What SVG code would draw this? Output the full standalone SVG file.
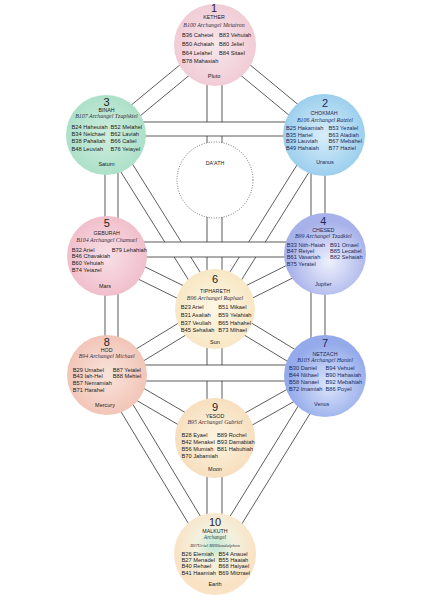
<svg xmlns="http://www.w3.org/2000/svg" width="421" height="600" viewBox="0 0 421 600">
<defs>
<style>
.ch{fill:#fff;stroke:#333;stroke-width:0.8}
.num{font-family:"Liberation Sans",Arial,sans-serif;font-size:11px;fill:#222;text-anchor:middle}
.nm{font-family:"Liberation Sans",Arial,sans-serif;font-size:5.3px;fill:#222;text-anchor:middle}
.arch{font-family:"Liberation Serif","Times New Roman",serif;font-style:italic;font-size:5.9px;fill:#3a3040;text-anchor:middle}
.ang{font-family:"Liberation Sans",Arial,sans-serif;font-size:5.7px;fill:#222}
.pl{font-family:"Liberation Sans",Arial,sans-serif;font-size:5.5px;fill:#222;text-anchor:middle}
.blue .num,.blue .nm,.blue .ang,.blue .pl{fill:#1c2b58}
.blue .arch{fill:#1c2b58}
</style>
<radialGradient id="gK"><stop offset="0" stop-color="#f8e6eb"/><stop offset="1" stop-color="#f1ccd6"/></radialGradient>
<radialGradient id="gB"><stop offset="0" stop-color="#cdeedf"/><stop offset="1" stop-color="#ade0c9"/></radialGradient>
<radialGradient id="gC"><stop offset="0" stop-color="#d9eefa"/><stop offset="1" stop-color="#9ccfee"/></radialGradient>
<radialGradient id="gG"><stop offset="0" stop-color="#f9e0e6"/><stop offset="1" stop-color="#f0bfcc"/></radialGradient>
<radialGradient id="gH" cx="0.55" cy="0.6"><stop offset="0" stop-color="#eef0fc"/><stop offset="1" stop-color="#a8b2ea"/></radialGradient>
<radialGradient id="gT"><stop offset="0" stop-color="#fdf7e6"/><stop offset="1" stop-color="#f8e7c4"/></radialGradient>
<radialGradient id="gD"><stop offset="0" stop-color="#f9e3db"/><stop offset="1" stop-color="#f2c5b8"/></radialGradient>
<radialGradient id="gN" cx="0.55" cy="0.6"><stop offset="0" stop-color="#dde6fb"/><stop offset="1" stop-color="#94aaea"/></radialGradient>
<radialGradient id="gY"><stop offset="0" stop-color="#fdf4e2"/><stop offset="1" stop-color="#f7dfbe"/></radialGradient>
<radialGradient id="gM" cx="0.5" cy="0.4"><stop offset="0" stop-color="#bfe8d4"/><stop offset="0.45" stop-color="#f3f1df"/><stop offset="1" stop-color="#fae2c4"/></radialGradient>
</defs>
<rect width="421" height="600" fill="#fff"/>
<g id="connectors">
<polygon class="ch" points="210.55,50.4 319.55,140.4 328.45,129.6 219.45,39.6"/>
<polygon class="ch" points="210.55,39.6 101.55,129.6 110.45,140.4 219.45,50.4"/>
<polygon class="ch" points="100.07,138.72 209.07,312.72 220.93,305.28 111.93,131.28"/>
<polygon class="ch" points="318.07,131.28 209.07,305.28 220.93,312.72 329.93,138.72"/>
<polygon class="ch" points="103.92,262.28 211.92,315.28 218.08,302.72 110.08,249.72"/>
<polygon class="ch" points="321.87,247.74 211.87,302.74 218.13,315.26 328.13,260.26"/>
<polygon class="ch" points="110.65,380.97 218.65,314.97 211.35,303.03 103.35,369.03"/>
<polygon class="ch" points="328.64,370.02 218.64,303.02 211.36,314.98 321.36,381.98"/>
<polygon class="ch" points="103.47,381.05 211.47,444.05 218.53,431.95 110.53,368.95"/>
<polygon class="ch" points="321.56,369.9 211.56,431.9 218.44,444.1 328.44,382.1"/>
<polygon class="ch" points="101.01,378.62 209.01,557.62 220.99,550.38 112.99,371.38"/>
<polygon class="ch" points="319.04,372.32 209.04,550.32 220.96,557.68 330.96,379.68"/>
<rect class="ch" x="207" y="45" width="15" height="509"/>
<rect class="ch" x="105" y="135" width="13" height="240"/>
<rect class="ch" x="311" y="135" width="14" height="241"/>
<rect class="ch" x="106" y="122" width="218" height="14"/>
<rect class="ch" x="107" y="242" width="218" height="15"/>
<rect class="ch" x="107" y="365" width="218" height="16"/>
</g>
<g id="daath">
<circle cx="215" cy="180" r="38" fill="#fff" stroke="#555" stroke-width="0.9" stroke-dasharray="0.9 1.6"/>
<text class="nm" x="215" y="165">DA'ATH</text>
</g>
<g id="kether">
<circle cx="215" cy="45" r="41" fill="url(#gK)"/>
<text class="num" x="214" y="11.5">1</text>
<text class="nm" x="214" y="18.8">KETHER</text>
<text class="arch" x="214" y="27">B100 Archangel Metatron</text>
<text class="ang" x="182" y="36.5">B36 Cahetel</text>
<text class="ang" x="182" y="45.5">B50 Achaiah</text>
<text class="ang" x="182" y="54.5">B64 Lelahel</text>
<text class="ang" x="182" y="63.2">B78 Mahasiah</text>
<text class="ang" x="219" y="36.5">B83 Vehuiah</text>
<text class="ang" x="219" y="45.5">B80 Jeliel</text>
<text class="ang" x="219" y="54.5">B84 Sitael</text>
<text class="pl" x="214" y="78">Pluto</text>
</g>
<g id="binah">
<circle cx="106" cy="135" r="40" fill="url(#gB)"/>
<text class="num" x="106.5" y="105.5">3</text>
<text class="nm" x="106.5" y="111.6">BINAH</text>
<text class="arch" x="106.5" y="118.3">B107 Archangel Tzaphkiel</text>
<text class="ang" x="71.5" y="128.9">B24 Haheuiah</text>
<text class="ang" x="71.5" y="136.2">B34 Nelchael</text>
<text class="ang" x="71.5" y="143.2">B38 Pahaliah</text>
<text class="ang" x="71.5" y="150.5">B48 Leuviah</text>
<text class="ang" x="110.5" y="128.9">B52 Melahel</text>
<text class="ang" x="110.5" y="136.2">B62 Laviah</text>
<text class="ang" x="110.5" y="143.2">B66 Caliel</text>
<text class="ang" x="110.5" y="150.5">B76 Yeiayel</text>
<text class="pl" x="106.5" y="165.5">Saturn</text>
</g>
<g id="chokmah" class="blue">
<circle cx="324" cy="135" r="41" fill="url(#gC)"/>
<text class="num" x="325" y="106.5">2</text>
<text class="nm" x="324" y="115.3">CHOKMAH</text>
<text class="arch" x="325" y="121.6">B106 Archangel Ratziel</text>
<text class="ang" x="286" y="129.9">B25 Hakamiah</text>
<text class="ang" x="286" y="136.5">B35 Hariel</text>
<text class="ang" x="286" y="143.2">B39 Lauviah</text>
<text class="ang" x="286" y="149.5">B49 Hahaiah</text>
<text class="ang" x="328.5" y="129.9">B53 Yezalel</text>
<text class="ang" x="328.5" y="136.5">B63 Aladiah</text>
<text class="ang" x="328.5" y="143.2">B67 Mebahel</text>
<text class="ang" x="328.5" y="149.5">B77 Haziel</text>
<text class="pl" x="325" y="164">Uranus</text>
</g>
<g id="geburah">
<circle cx="107" cy="256" r="40" fill="url(#gG)"/>
<text class="num" x="106.7" y="227">5</text>
<text class="nm" x="106.7" y="235.3">GEBURAH</text>
<text class="arch" x="106.7" y="241.6">B104 Archangel Chamuel</text>
<text class="ang" x="71.7" y="251.5">B32 Ariel</text>
<text class="ang" x="71.7" y="258.2">B46 Chavakiah</text>
<text class="ang" x="71.7" y="264.9">B60 Yehuiah</text>
<text class="ang" x="71.7" y="272.2">B74 Yeiazel</text>
<text class="ang" x="111.7" y="251.5">B79 Lehahiah</text>
<text class="pl" x="105" y="288">Mars</text>
</g>
<g id="chesed" class="blue">
<circle cx="325" cy="254" r="41" fill="url(#gH)"/>
<text class="num" x="323.3" y="224.5">4</text>
<text class="nm" x="323.3" y="232">CHESED</text>
<text class="arch" x="323.3" y="238">B99 Archangel Tzadkiel</text>
<text class="ang" x="286.7" y="246.5">B33 Nith-Haiah</text>
<text class="ang" x="286.7" y="252.5">B47 Reiyel</text>
<text class="ang" x="286.7" y="258.9">B61 Vasariah</text>
<text class="ang" x="286.7" y="265.5">B75 Yeratel</text>
<text class="ang" x="330" y="246.5">B91 Omael</text>
<text class="ang" x="330" y="252.5">B85 Lecabel</text>
<text class="ang" x="330" y="258.9">B82 Sehaiah</text>
<text class="pl" x="323.3" y="285.5">Jupiter</text>
</g>
<g id="tiphareth">
<circle cx="215" cy="309" r="40" fill="url(#gT)"/>
<text class="num" x="215" y="283">6</text>
<text class="nm" x="215" y="293.4">TIPHARETH</text>
<text class="arch" x="215" y="299.6">B96 Archangel Raphael</text>
<text class="ang" x="180.7" y="308.9">B23 Ariel</text>
<text class="ang" x="180.7" y="316.5">B31 Asaliah</text>
<text class="ang" x="180.7" y="324.5">B37 Veuliah</text>
<text class="ang" x="180.7" y="332.2">B45 Sehaliah</text>
<text class="ang" x="218.3" y="308.9">B51 Mikael</text>
<text class="ang" x="218.3" y="316.5">B59 Yelahiah</text>
<text class="ang" x="218.3" y="324.5">B65 Hahahel</text>
<text class="ang" x="218.3" y="332.2">B73 Mihael</text>
<text class="pl" x="215" y="343.5">Sun</text>
</g>
<g id="hod">
<circle cx="107" cy="375" r="40" fill="url(#gD)"/>
<text class="num" x="106.7" y="346">8</text>
<text class="nm" x="106.7" y="352.3">HOD</text>
<text class="arch" x="106.7" y="358">B94 Archangel Michael</text>
<text class="ang" x="72.7" y="371.5">B29 Umabel</text>
<text class="ang" x="72.7" y="378.2">B43 Iah-Hel</text>
<text class="ang" x="72.7" y="384.9">B57 Nemamiah</text>
<text class="ang" x="72.7" y="392.2">B71 Harahel</text>
<text class="ang" x="112.7" y="371.5">B87 Yeialel</text>
<text class="ang" x="112.7" y="378.2">B88 Mehiel</text>
<text class="pl" x="105" y="407.2">Mercury</text>
</g>
<g id="netzach" class="blue">
<circle cx="325" cy="376" r="41" fill="url(#gN)"/>
<text class="num" x="325" y="346.5">7</text>
<text class="nm" x="325" y="355.8">NETZACH</text>
<text class="arch" x="325" y="361.8">B103 Archangel Haniel</text>
<text class="ang" x="289" y="369.8">B30 Daniel</text>
<text class="ang" x="289" y="376.7">B44 Nithael</text>
<text class="ang" x="289" y="383.9">B58 Nanael</text>
<text class="ang" x="289" y="390.7">B72 Imamiah</text>
<text class="ang" x="325.5" y="369.8">B94 Vehuel</text>
<text class="ang" x="325.5" y="376.7">B90 Hahasiah</text>
<text class="ang" x="325.5" y="383.9">B92 Mebahiah</text>
<text class="ang" x="325.5" y="390.7">B86 Poyel</text>
<text class="pl" x="321.7" y="406.2">Venus</text>
</g>
<g id="yesod">
<circle cx="215" cy="438" r="40" fill="url(#gY)"/>
<text class="num" x="215" y="410.5">9</text>
<text class="nm" x="215" y="417.7">YESOD</text>
<text class="arch" x="215" y="424">B95 Archangel Gabriel</text>
<text class="ang" x="181.5" y="437.2">B28 Eyael</text>
<text class="ang" x="181.5" y="443.9">B42 Menakel</text>
<text class="ang" x="181.5" y="451.2">B56 Mumiah</text>
<text class="ang" x="181.5" y="457.7">B70 Jabamiah</text>
<text class="ang" x="217" y="437.2">B89 Rochel</text>
<text class="ang" x="217" y="443.9">B93 Damabiah</text>
<text class="ang" x="217" y="451.2">B81 Habuhiah</text>
<text class="pl" x="215" y="471">Moon</text>
</g>
<g id="malkuth">
<circle cx="215" cy="554" r="41" fill="url(#gM)"/>
<text class="num" x="215" y="525.5">10</text>
<text class="nm" x="215" y="532.5">MALKUTH</text>
<text class="arch" x="215" y="538.6" style="fill:#2e4a3a;font-size:5.4px">Archangel</text>
<text class="arch" x="215" y="547" style="font-size:4.8px">B97Uriel B99Sandalphon</text>
<text class="ang" x="181.5" y="556.2">B26 Elemiah</text>
<text class="ang" x="181.5" y="562.2">B27 Menadel</text>
<text class="ang" x="181.5" y="568.2">B40 Rehael</text>
<text class="ang" x="181.5" y="574.5">B41 Haamiah</text>
<text class="ang" x="218.5" y="556.2">B54 Anauel</text>
<text class="ang" x="218.5" y="562.2">B55 Haaiah</text>
<text class="ang" x="218.5" y="568.2">B68 Haiyael</text>
<text class="ang" x="218.5" y="574.5">B69 Mitzrael</text>
<text class="pl" x="215" y="586">Earth</text>
</g>
</svg>
